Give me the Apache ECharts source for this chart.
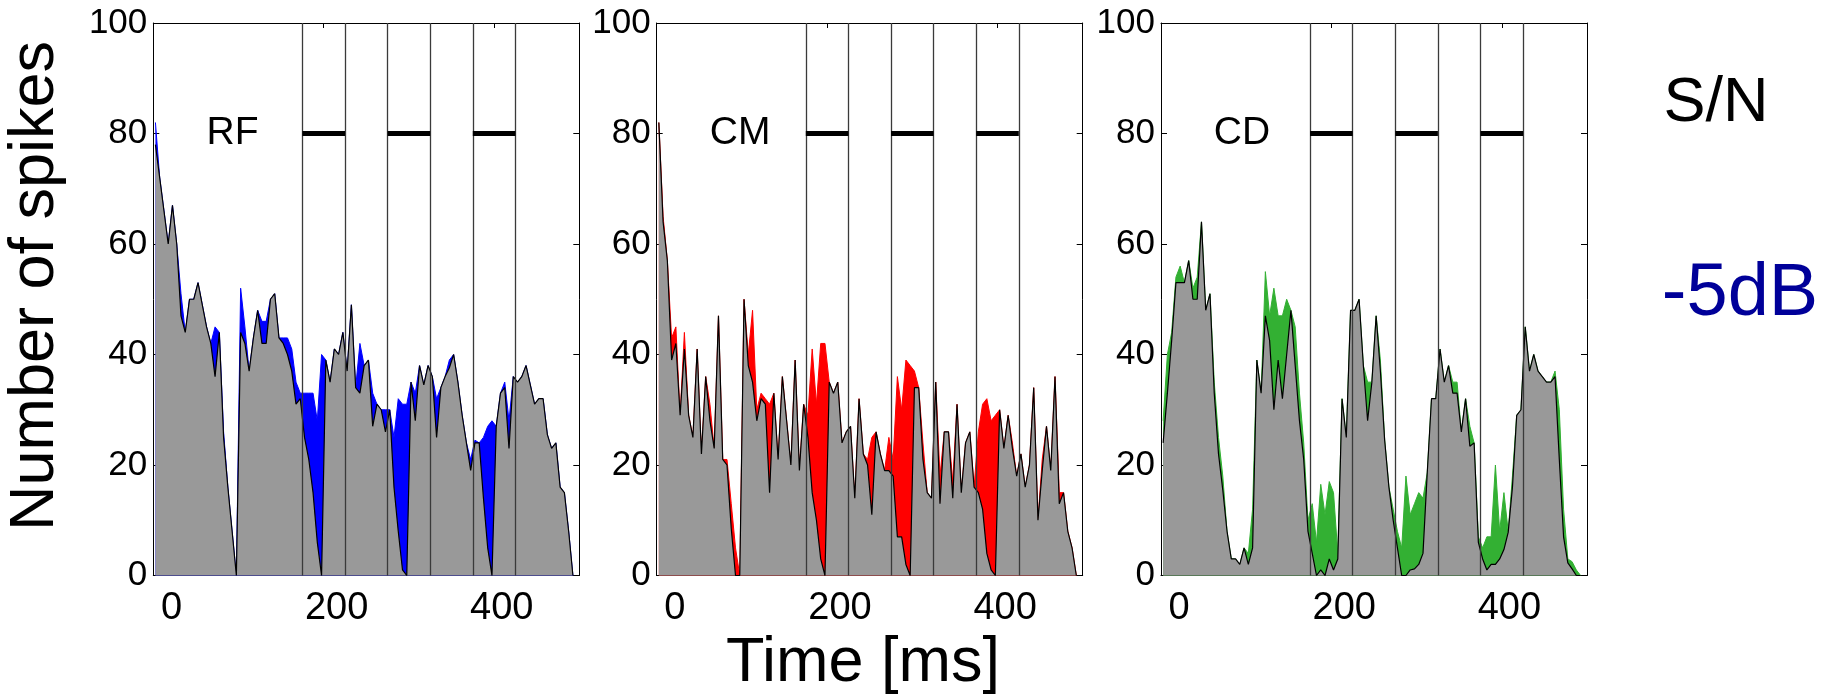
<!DOCTYPE html>
<html><head><meta charset="utf-8">
<script src="https://cdn.jsdelivr.net/npm/echarts@6/dist/echarts.min.js"></script>
<style>html,body{margin:0;padding:0;background:#fff}#c{width:1827px;height:698px}</style>
</head><body><div id="c"></div>
<script>
// time bins (ms, bin centres)
const timeBins = [2.5,7.5,12.5,17.5,22.5,27.5,32.5,37.5,42.5,47.5,52.5,57.5,62.5,67.5,72.5,77.5,82.5,87.5,92.5,97.5,
102.5,107.5,112.5,117.5,122.5,127.5,132.5,137.5,142.5,147.5,152.5,157.5,162.5,167.5,172.5,177.5,182.5,187.5,192.5,197.5,
202.5,207.5,212.5,217.5,222.5,227.5,232.5,237.5,242.5,247.5,252.5,257.5,262.5,267.5,272.5,277.5,282.5,287.5,292.5,297.5,
302.5,307.5,312.5,317.5,322.5,327.5,332.5,337.5,342.5,347.5,352.5,357.5,362.5,367.5,372.5,377.5,382.5,387.5,392.5,397.5,
402.5,407.5,412.5,417.5,422.5,427.5,432.5,437.5,442.5,447.5,452.5,457.5,462.5,467.5,472.5,477.5,482.5,487.5,492.5];

// RF panel
const rfColour = [82,72,66,60,67,60,51,44,50,50, 53,49,45,42,45,44,26,16,8,0, 52,45,37,43,48,46,46,50,51,43,
43,43,41,35,33,33,33,33,28,40, 39,35,41,40,44,37,49,34,42,38, 39,33,31,30,30,30,25,32,31,31,
35,33,38,34.5,38,36,32,34,36,39, 40,35,29,24,21,24.5,24,25,27,28, 27,33,35,28,36,35,36,38,34.5,31,
32,32,25.5,23,24,16,15,8,0];
const rfGrey = [78,72,66,60,67,60,47,44,50,50, 53,49,45,42,36,44,25,16,8,0, 44,42,37,43,48,42,42,50,51,43,
42,40,37,31,32,25,21,15,6,0, 39,35,41,40,44,37,49,34,33,38, 39,27,31,30,26,30,16,8,1,0,
35,28,38,34.5,38,36,25,34,36,37.6, 40,35,29,24,19,24,24,14,5,0, 27,33,34,23,36,35,36,38,34.5,31,
32,32,25.5,23,24,16,15,8,0];

// CM panel
const cmColour = [82,65,57,43,45,29,44,29,25,41, 22,36,31,23,47,21,21,13,5,0, 50,40,48,30,33,32,31,33,21,36,
28,20,39,19,31,29,41,31,42,42, 35,33,35,24,26,27,14,32,22,21, 25,26,22,19,25,21,36,30,39,38,
37,34,24,15,14,35,18,26,26,17, 31,15,24,26,16,26,31,32,28,29, 30,23,29,24,18,22,16,20,34,10,
21,27,19,36,15,15,8,5,0];
const cmGrey = [82,64,57,39,42,29,41,29,25,41, 22,36,28,23,47,21,20,8.5,0,0, 50,38,35,28,32,31,15,33,21,36,
28,20,39,19,31,25,15,10,3,0, 35,33,35,24,26,27,14,32,22,20, 11,26,22,19,19,18,7,7,2,0,
34,34,21,15,14,35,13,26,26,14, 31,15,24,26,16,15,12,4,1,0, 30,23,29,23,18,22,16,20,34,10,
19,27,19,36,13,15,8,5,0];

// CD panel
const cdColour = [28,40,44,54,56,53,57,52,54,64, 48,51,35,25,18,8,3,3,2,5, 4,12,39,33,55,47,52,47,47,50,
48,45,33,24,10,13,6,16.5,11,17, 15,4,32,25,48,48,50,38,35,35, 47,39,24.5,16,12,8,5,18,11,13,
15,14,18.6,32,32,41,35,38,35,35, 26,32,27,24,7,5,7,7,20,8, 15,8,18,29,30,45,37,40,37,36,
35,35,37,30,12,3,2.5,1,0];
const cdGrey = [24,33,42.5,53,53,53,57,50,50,64, 48,51,33,22,15.5,8,3,3,2,5, 2,5,39,33,47,42.5,30,39,32,40,
48,38,28,21,8,4,0,1,0,3, 1,3,32,25,48,48,50,38,28,35, 47,37,24.5,16,10,5,0,0,1,1.2,
2,4,18.6,32,32,41,35,38,33,33, 26,32,23.4,24,6,3,1,2,2,3, 4.7,7.8,16,29,30,45,37,40,37,36,
35,35,36,21,7,2.3,1.2,0,0];

const panelNames = ['RF','CM','CD'];
const panelLabelX = [93, 98, 95];
const panelLabelY = [80, 80, 80];
const colours = ['#0000FF','#FF0000','#33B033'];
const colourSeries = [rfColour, cmColour, cdColour];
const greySeries = [rfGrey, cmGrey, cdGrey];
const stimEdges = [175,225,275,325,375,425];
const stimOn = [175,275,375];
const stimOff = [225,325,425];
const stimLevel = 80;
const xTickLabels = [0,200,400];
const xTopTicks = [200,400];

const FONT = 'Liberation Sans, Arial, sans-serif';
const gridLefts = [153.3, 656.7, 1161];
const chart = echarts.init(document.getElementById('c'));
const pairs = (ys) => ys.map((v,i)=>[timeBins[i], v]);

const grids=[], xAxes=[], yAxes=[], series=[];
for (let p=0;p<3;p++){
  grids.push({left:gridLefts[p], top:23, width:426, height:552.5});
  // data axis (ticks on top)
  xAxes.push({gridIndex:p, type:'value', min:0, max:500, position:'top',
    axisLine:{show:true,onZero:false,lineStyle:{color:'#000',width:1}},
    axisTick:{show:true,inside:true,length:5,customValues:xTopTicks,lineStyle:{color:'#000'}},
    axisLabel:{show:false}, splitLine:{show:false}});
  // label axis (bottom)
  xAxes.push({gridIndex:p, type:'value', min:-22, max:494, position:'bottom',
    axisLine:{show:true,onZero:false,lineStyle:{color:'#000',width:1}},
    axisTick:{show:false},
    axisLabel:{show:true, customValues:xTickLabels, fontSize:38, margin:14, color:'#000', fontFamily:FONT},
    splitLine:{show:false}});
  yAxes.push({gridIndex:p, type:'value', min:0, max:100, interval:20, position:'left',
    axisLine:{show:true,onZero:false,lineStyle:{color:'#000',width:1}},
    axisTick:{show:true,inside:true,length:6,lineStyle:{color:'#000'}},
    axisLabel:{show:true,fontSize:35,margin:6,color:'#000',fontFamily:FONT},
    splitLine:{show:false}});
  yAxes.push({gridIndex:p, type:'value', min:0, max:100, interval:20, position:'right',
    axisLine:{show:true,onZero:false,lineStyle:{color:'#000',width:1}},
    axisTick:{show:true,inside:true,length:6,lineStyle:{color:'#000'}},
    axisLabel:{show:false}, splitLine:{show:false}});
  const xi = 2*p, yi = 2*p;
  series.push({type:'line', xAxisIndex:xi, yAxisIndex:yi, data:pairs(colourSeries[p]), symbol:'none', z:2,
    lineStyle:{color:colours[p], width:1}, areaStyle:{color:colours[p], opacity:1}, silent:true});
  series.push({type:'line', xAxisIndex:xi, yAxisIndex:yi, data:pairs(greySeries[p]), symbol:'none', z:3,
    lineStyle:{color:'#000', width:1.2}, areaStyle:{color:'#999999', opacity:1}, silent:true});
  const ml = stimEdges.map(v=>({xAxis:v, lineStyle:{color:'#3a3a3a', width:1.3, type:'solid'}}));
  stimOn.forEach((v,k)=>ml.push([{coord:[v,stimLevel], lineStyle:{color:'#000', width:5, type:'solid'}},{coord:[stimOff[k],stimLevel]}]));
  series.push({type:'line', xAxisIndex:xi, yAxisIndex:yi, data:[], z:4, silent:true,
    markLine:{silent:true, symbol:['none','none'], label:{show:false}, animation:false,
      lineStyle:{type:'solid'}, data:ml}});
}

chart.setOption({
  animation:false,
  backgroundColor:'#fff',
  grid:grids, xAxis:xAxes, yAxis:yAxes, series:series
});

const graphics = [
  {type:'text', x:36, y:286, rotation:Math.PI/2, style:{text:'Number of spikes', fontSize:63, fontFamily:FONT, fill:'#000', align:'center', verticalAlign:'middle'}},
  {type:'text', x:863, y:664, style:{text:'Time [ms]', fontSize:63, fontFamily:FONT, fill:'#000', align:'center', verticalAlign:'middle'}},
  {type:'text', x:1716, y:104, style:{text:'S/N', fontSize:63, fontFamily:FONT, fill:'#000', align:'center', verticalAlign:'middle'}},
  {type:'text', x:1740, y:295, style:{text:'-5dB', fontSize:74, fontFamily:FONT, fill:'#000099', align:'center', verticalAlign:'middle'}}
];
for (let p=0;p<3;p++){
  const pt = chart.convertToPixel({xAxisIndex:2*p, yAxisIndex:2*p}, [panelLabelX[p], panelLabelY[p]]);
  graphics.push({type:'text', x:pt[0], y:pt[1], z:10, style:{text:panelNames[p], fontSize:39, fontFamily:FONT, fill:'#000', align:'center', verticalAlign:'middle'}});
}
chart.setOption({graphic:graphics});
</script></body></html>
